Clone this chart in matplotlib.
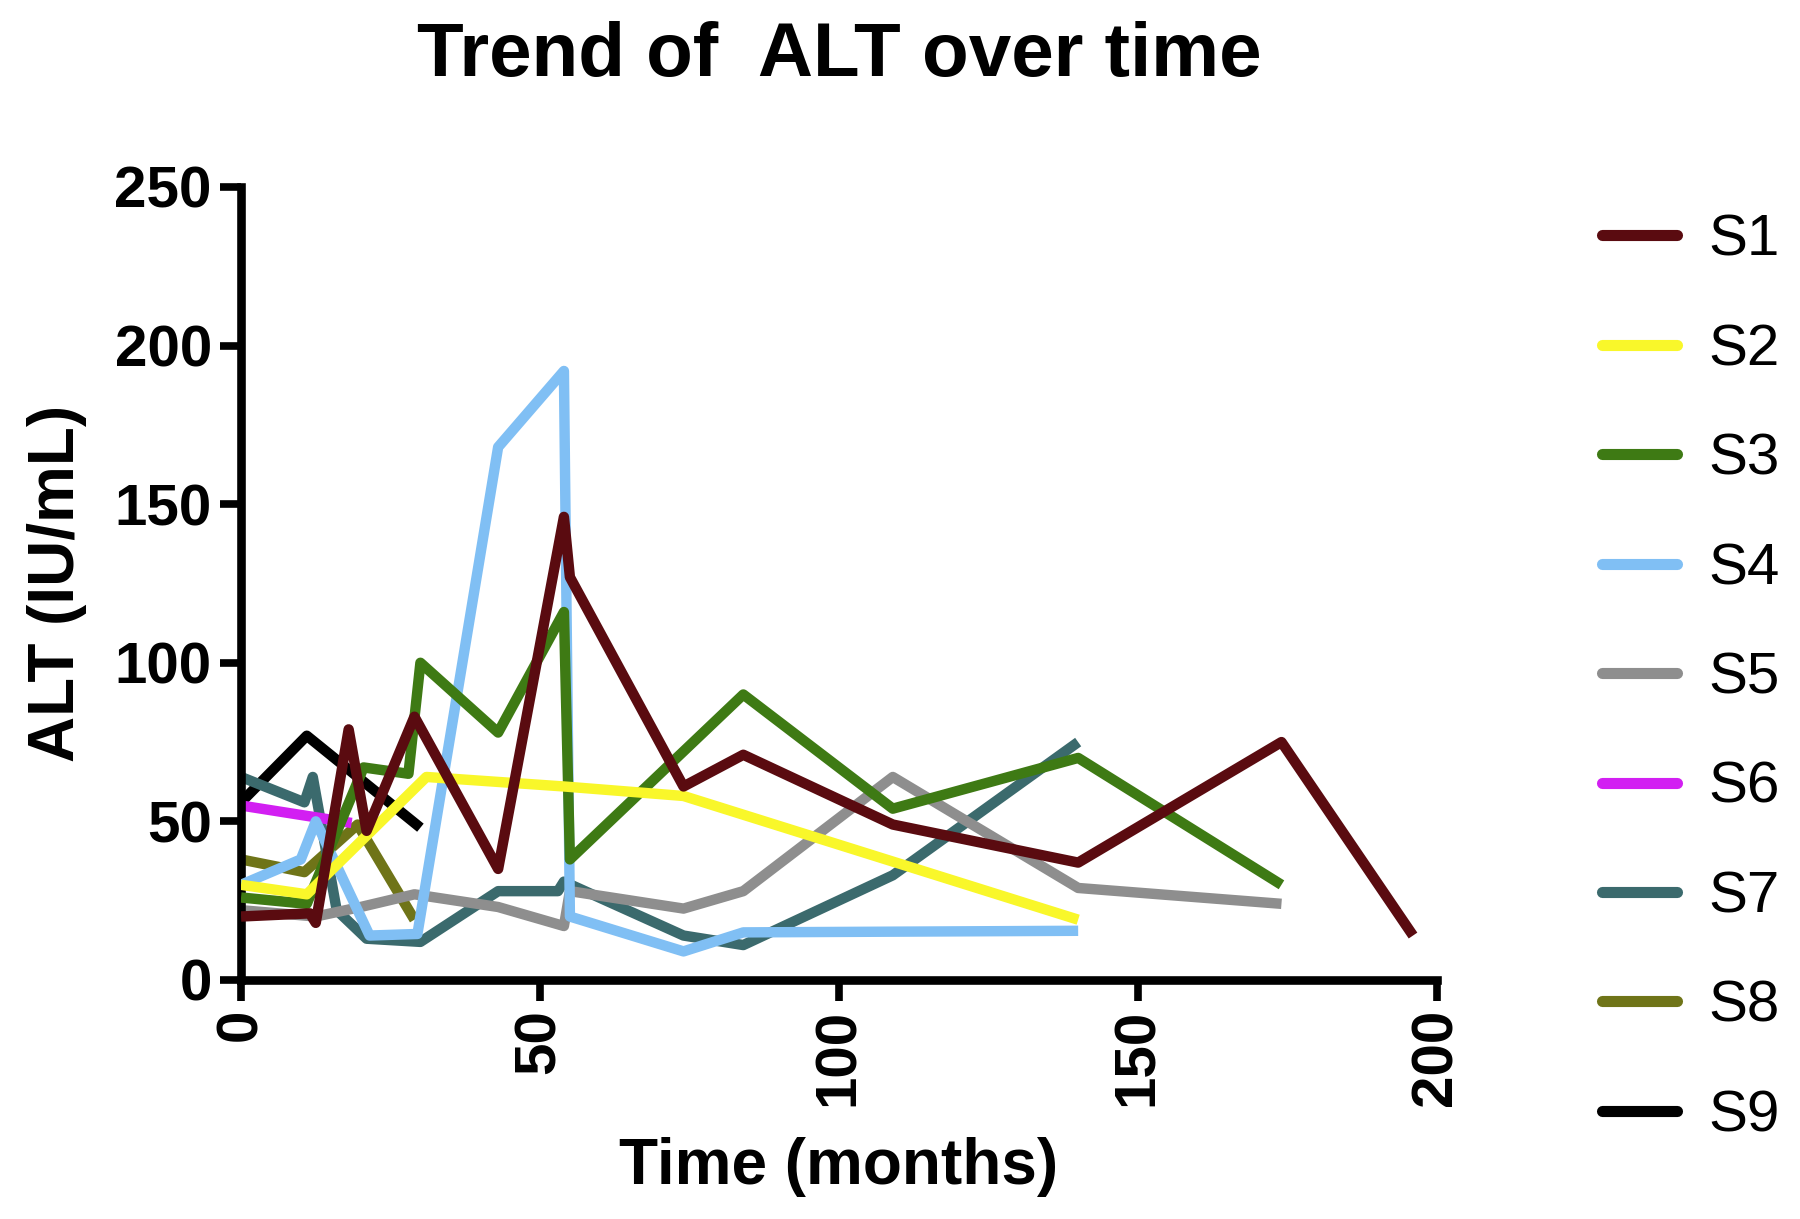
import matplotlib
matplotlib.use("Agg")
import matplotlib.pyplot as plt
from matplotlib import font_manager

# ALT values per subject (time in months, ALT in IU/mL)
s1_t = [0, 11.5, 12.5, 18, 21, 29, 43, 54, 55, 74, 84, 109, 140, 174, 196]
s1_v = [20, 21, 18, 79, 47, 83, 35, 146, 127, 61, 71, 49, 37, 75, 14]
s2_t = [0, 11, 31, 54, 74, 140]
s2_v = [30, 27, 64, 61, 58, 19]
s3_t = [0, 11, 20.5, 28, 30, 43, 54, 55, 84, 109, 140, 174]
s3_v = [26, 24, 67, 65, 100, 78, 116, 38, 90, 54, 70, 30]
s4_t = [0, 10, 12.5, 21.5, 29.5, 43, 54, 55, 74, 84, 140]
s4_v = [30, 38, 50, 14, 14.5, 168, 192, 20, 9, 15, 15.5]
s5_t = [0, 12.5, 20, 29, 43, 54, 55, 74, 84, 109, 140, 174]
s5_v = [22, 20, 23, 27, 23, 17, 28, 22.5, 28, 64, 29, 24]
s6_t = [0, 18.5]
s6_v = [55, 49.5]
s7_t = [0, 10.6, 12, 16, 21, 30, 43, 53, 54, 74, 84, 109, 140]
s7_v = [64, 56, 64, 22, 13, 12, 28, 28, 31, 14, 11, 33, 75]
s8_t = [0, 10.6, 19.5, 29]
s8_v = [38, 34, 49, 19]
s9_t = [0, 11, 30]
s9_v = [56, 77, 48]

labels = ["S1", "S2", "S3", "S4", "S5", "S6", "S7", "S8", "S9"]
colors = ["#5a0b10", "#f9f72a", "#3e7a14", "#80bff4", "#8e8e8e",
          "#d21ff2", "#3b6a6d", "#6f7418", "#000000"]
times = [s1_t, s2_t, s3_t, s4_t, s5_t, s6_t, s7_t, s8_t, s9_t]
values = [s1_v, s2_v, s3_v, s4_v, s5_v, s6_v, s7_v, s8_v, s9_v]

plt.rcParams['font.family'] = ['Liberation Sans', 'DejaVu Sans']

# legend text is a bit condensed in the original; use the narrow face if it exists
installed = {f.name for f in font_manager.fontManager.ttflist}
if 'Liberation Sans Narrow' in installed:
    leg_family, leg_pt, leg_ls = 'Liberation Sans Narrow', 47, 0.75
else:
    leg_family, leg_pt, leg_ls = 'Liberation Sans', 42, 0.95
leg_px = leg_pt * 100 / 72

fig = plt.figure(figsize=(18, 12.19), dpi=100)
ax = fig.add_axes([0.1339, 0.1961, 0.6644, 0.6505])

# draw S9 first so S1 ends up on top, like the original
for i in range(len(labels) - 1, -1, -1):
    ax.plot(times[i], values[i], color=colors[i], lw=7.5, label=labels[i],
            solid_joinstyle='round', solid_capstyle='butt', zorder=2 + (9 - i) * 0.1)

ax.set_xlim(0, 200)
ax.set_ylim(0, 250)
ax.set_xticks([0, 50, 100, 150, 200])
ax.set_yticks([0, 50, 100, 150, 200, 250])
for s in ['top', 'right']:
    ax.spines[s].set_visible(False)
for s in ['left', 'bottom']:
    ax.spines[s].set_linewidth(6.2)
ax.tick_params(axis='both', length=15, width=5.5, labelsize=42, pad=6)
for lab in ax.get_yticklabels():
    lab.set_fontweight('bold')
for lab in ax.get_xticklabels():
    lab.set_fontweight('bold')
    lab.set_rotation(90)

ax.set_xlabel("Time (months)", fontsize=46, fontweight='bold', labelpad=22)
ax.set_ylabel("ALT (IU/mL)", fontsize=46, fontweight='bold', labelpad=20)
ax.set_title("Trend of  ALT over time", fontsize=55, fontweight='bold', pad=80)

h, l = ax.get_legend_handles_labels()
order = [l.index(x) for x in labels]
leg = fig.legend([h[k] for k in order], labels, loc='upper left',
                 bbox_to_anchor=(0.890, 1 - (241 - 0.465 * leg_px) / 1219),
                 frameon=False, prop={'family': leg_family, 'size': leg_pt},
                 handlelength=75 / leg_px, handletextpad=31 / leg_px,
                 labelspacing=leg_ls, borderpad=0, borderaxespad=0)
for line in leg.get_lines():
    line.set_linewidth(8)
    line.set_solid_capstyle('round')

fig.savefig("out.png", dpi=100)
